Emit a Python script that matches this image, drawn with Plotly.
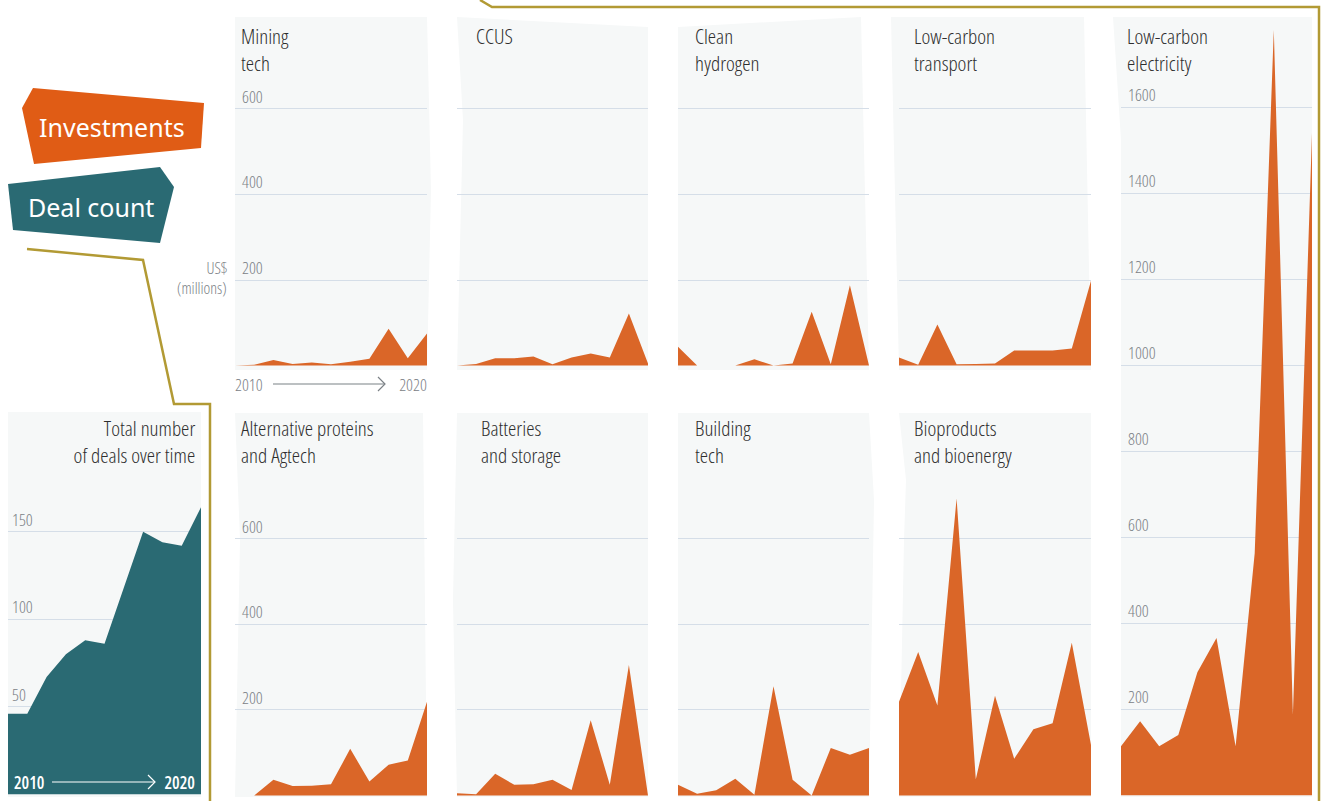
import plotly.graph_objects as go

# ---------------- data ----------------
years = list(range(2010, 2021))

mining_tech = [0, 2, 13, 4, 7, 3, 9, 16, 86, 17, 75]
ccus = [0, 4, 17, 17, 21, 3, 19, 28, 19, 122, 5]
clean_hydrogen = [44, 0, 0, 0, 15, 0, 5, 126, 3, 188, 0]
low_carbon_transport = [19, 2, 96, 3, 4, 5, 35, 35, 35, 40, 198]
low_carbon_electricity = [114, 172, 114, 140, 286, 366, 114, 563, 1780, 188, 1540]
alt_proteins = [0, 0, 37, 22, 23, 26, 109, 33, 72, 82, 219]
batteries = [5, 3, 51, 25, 26, 37, 13, 176, 25, 305, 0]
building_tech = [25, 4, 12, 39, 2, 255, 37, 0, 111, 95, 111]
bioproducts = [219, 335, 210, 694, 38, 233, 86, 155, 169, 357, 118]
deal_count = [46, 46, 67, 80, 88, 86, 118, 150, 144, 142, 164]

titles = {
    "mining": "Mining<br>tech",
    "ccus": "CCUS",
    "hydrogen": "Clean<br>hydrogen",
    "transport": "Low-carbon<br>transport",
    "electricity": "Low-carbon<br>electricity",
    "proteins": "Alternative proteins<br>and Agtech",
    "batteries": "Batteries<br>and storage",
    "building": "Building<br>tech",
    "bio": "Bioproducts<br>and bioenergy",
    "deals": "Total number<br>of deals over time",
}
invest_ticks = [200, 400, 600]
elec_ticks = [200, 400, 600, 800, 1000, 1200, 1400, 1600]
deal_ticks = [50, 100, 150]

# ---------------- style ----------------
W, H = 1323, 801
ORANGE = "#da6628"
TEAL = "#2a6a73"
GOLD = "#b29a34"
PANEL = "#f6f8f8"
GRID = "#d5dee8"
TICK = "#7b8186"
TITLE = "#2e2e2e"
COND = "Open Sans"                  # condensed 75% via font-stretch (post script)
TCOND = "Open Sans, Noto Sans"      # condensed 80% via font-stretch (post script)
ROUND = "Noto Sans, Lato, sans-serif"


def px(x, y):
    return x / W, 1 - y / H


def poly(points):
    s = ""
    for i, (x, y) in enumerate(points):
        X, Y = px(x, y)
        s += ("M" if i == 0 else "L") + f"{X:.5f},{Y:.5f} "
    return s + "Z"


def pline(points):
    s = ""
    for i, (x, y) in enumerate(points):
        X, Y = px(x, y)
        s += ("M" if i == 0 else "L") + f"{X:.5f},{Y:.5f} "
    return s


# key, series, color, x0, x1, top, bottom, zero_px, px_per_unit, ticks, labels, standoff, bg polygon, title pos
panels = [
    ("mining", mining_tech, ORANGE, 235, 427, 17, 370, 365.6, 0.428, invest_ticks, True, 4,
     [(235, 17), (427, 17), (431, 190), (427, 370), (235, 370)], (239, 20, "left")),
    ("ccus", ccus, ORANGE, 457, 648, 17, 370, 365.6, 0.428, invest_ticks, False, 4,
     [(457, 17), (648, 27), (648, 370), (457, 370), (463, 120)], (474, 20, "left")),
    ("hydrogen", clean_hydrogen, ORANGE, 678, 869, 17, 370, 365.6, 0.428, invest_ticks, False, 4,
     [(678, 27), (861, 17), (869, 370), (678, 370)], (693, 20, "left")),
    ("transport", low_carbon_transport, ORANGE, 899, 1091, 17, 370, 365.6, 0.428, invest_ticks, False, 4,
     [(891, 17), (1084, 17), (1091, 370), (899, 370), (894, 150)], (912, 20, "left")),
    ("electricity", low_carbon_electricity, ORANGE, 1121, 1312, 17, 797, 795.3, 0.43, elec_ticks, True, 4,
     [(1113, 17), (1312, 17), (1312, 797), (1121, 797), (1121, 140)], (1125, 20, "left")),
    ("proteins", alt_proteins, ORANGE, 235, 427, 413, 797, 795.5, 0.428, invest_ticks, True, 4,
     [(235, 413), (423, 413), (427, 797), (235, 797), (240, 540)], (239, 412, "left")),
    ("batteries", batteries, ORANGE, 457, 648, 413, 797, 795.5, 0.428, invest_ticks, False, 4,
     [(457, 413), (648, 413), (648, 797), (457, 797), (453, 600)], (479, 412, "left")),
    ("building", building_tech, ORANGE, 678, 869, 413, 797, 795.5, 0.428, invest_ticks, False, 4,
     [(678, 413), (869, 413), (874, 500), (869, 797), (678, 797)], (693, 412, "left")),
    ("bio", bioproducts, ORANGE, 899, 1091, 413, 797, 795.5, 0.428, invest_ticks, False, 4,
     [(899, 413), (1091, 413), (1091, 797), (899, 797), (904, 540), (906, 480)], (912, 412, "left")),
    ("deals", deal_count, TEAL, 8, 201, 412, 797, 794.2, 1.75, deal_ticks, True, 1,
     [(8, 412), (201, 412), (201, 797), (8, 797)], (197, 412, "right")),
]

fig = go.Figure()
shapes = []
annotations = []


def label(text, x, y, anchor, size, color, family=COND, weight=None, yanchor="middle"):
    X, Y = px(x, y)
    f = dict(family=family, size=size, color=color)
    if weight:
        f["weight"] = weight
    annotations.append(dict(text=text, x=X, y=Y, xref="paper", yref="paper", showarrow=False,
                            xanchor=anchor, yanchor=yanchor, align=anchor, font=f))


for i, (key, series, color, x0, x1, top, bot, zero, scale, ticks, labels, stand, bg, tpos) in enumerate(panels):
    n = i + 1
    xa = "x" if n == 1 else f"x{n}"
    ya = "y" if n == 1 else f"y{n}"
    fig.add_trace(go.Scatter(
        x=years, y=series, mode="lines", fill="tozeroy",
        fillcolor=color, line=dict(width=0, color=color),
        xaxis=xa, yaxis=ya, showlegend=False, hoverinfo="x+y",
    ))
    xkey = "xaxis" if n == 1 else f"xaxis{n}"
    ykey = "yaxis" if n == 1 else f"yaxis{n}"
    fig.layout[xkey] = dict(
        domain=[x0 / W, x1 / W], range=[2010, 2020], anchor=ya,
        showgrid=False, zeroline=False, showticklabels=False, showline=False, ticks="",
        fixedrange=True,
    )
    fig.layout[ykey] = dict(
        domain=[1 - bot / H, 1 - top / H],
        range=[(zero - bot) / scale, (zero - top) / scale],
        anchor=xa, tickvals=ticks, showgrid=True, gridcolor=GRID, gridwidth=1.2,
        zeroline=False, showline=False, ticks="",
        showticklabels=labels, ticklabelposition="inside top",
        ticklabelstandoff=stand,
        tickfont=dict(family=COND, size=17, color=TICK, weight=300),
        fixedrange=True,
    )
    shapes.append(dict(type="path", path=poly(bg), xref="paper", yref="paper",
                       fillcolor=PANEL, line=dict(width=0), layer="below"))
    tx, ty, al = tpos
    label(titles[key], tx, ty, al, 21, TITLE, family=TCOND, weight=350, yanchor="top")

# legend shapes
shapes.append(dict(type="path", path=poly([(33, 88), (204, 103), (201, 148), (34, 164), (22, 108)]),
                   xref="paper", yref="paper", fillcolor="#e05c15", line=dict(width=0)))
shapes.append(dict(type="path", path=poly([(8, 184), (160, 167), (174, 187), (160, 243), (13, 230)]),
                   xref="paper", yref="paper", fillcolor=TEAL, line=dict(width=0)))
label("Investments", 112, 127, "center", 25, "white", family=ROUND)
label("Deal count", 91, 207, "center", 25, "white", family=ROUND)

# gold connector lines
shapes.append(dict(type="path", path=pline([(27, 249), (143, 260), (174, 404), (210, 404), (210, 801)]),
                   xref="paper", yref="paper", line=dict(color=GOLD, width=2.5)))
shapes.append(dict(type="path", path=pline([(480, 0), (492, 7), (1319, 7), (1319, 801)]),
                   xref="paper", yref="paper", line=dict(color=GOLD, width=2.5)))

# US$ label
label("US$", 229, 268, "right", 16, TICK, weight=300)
label("(millions)", 229, 288, "right", 16, TICK, weight=300)


# time arrows
def time_arrow(xl, xr, x_line0, x_line1, y, color, weight):
    label("2010", xl, y, "left", 17, color, weight=weight)
    label("2020", xr, y, "right", 17, color, weight=weight)
    shapes.append(dict(type="path", path=pline([(x_line0, y), (x_line1, y)]),
                       xref="paper", yref="paper", line=dict(color=color, width=1.2)))
    shapes.append(dict(type="path", path=pline([(x_line1 - 7, y - 7), (x_line1, y), (x_line1 - 7, y + 7)]),
                       xref="paper", yref="paper", line=dict(color=color, width=1.2)))


time_arrow(233, 429, 273, 385, 384, TICK, 300)
time_arrow(12, 197, 52, 155, 782, "white", 600)

fig.update_layout(
    width=W, height=H, margin=dict(l=0, r=0, t=0, b=0),
    paper_bgcolor="white", plot_bgcolor="rgba(0,0,0,0)",
    shapes=shapes, annotations=annotations, showlegend=False,
)

post = (
    "document.body.style.margin='0';"
    "document.querySelectorAll('text').forEach(function(e){"
    "var ff=e.style.fontFamily||'';"
    "if(ff.indexOf('Noto Sans')>=0&&ff.indexOf('Open Sans')>=0){e.style.fontStretch='80%';}"
    "else if(ff.indexOf('Open Sans')>=0){e.style.fontStretch='75%';}"
    "});"
)
fig.write_html("out.html", config={"displayModeBar": False}, post_script=post)
